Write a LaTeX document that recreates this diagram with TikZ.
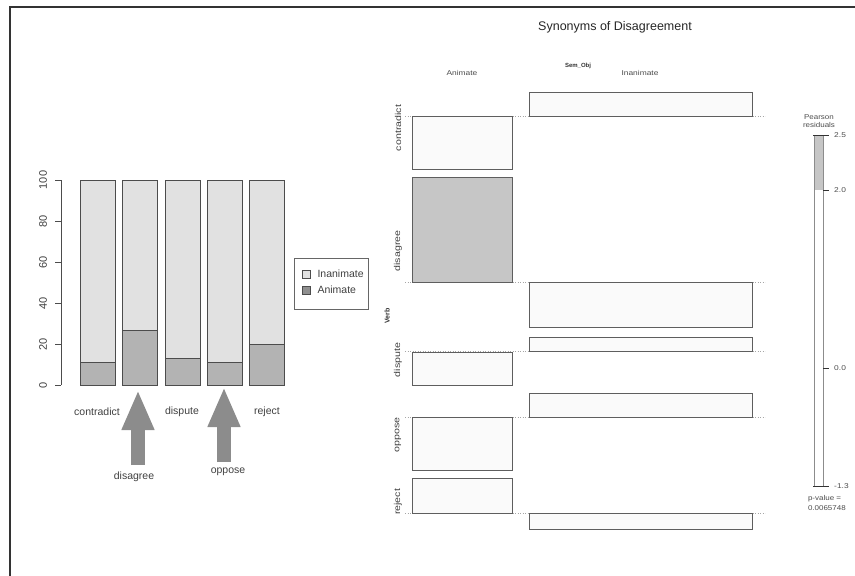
\documentclass[tikz,border=0pt]{standalone}
\usepackage{fontspec}
\setmainfont{Liberation Sans}
\usetikzlibrary{arrows.meta}

\definecolor{inanim}{HTML}{E1E1E1}
\definecolor{anim}{HTML}{B3B3B3}
\definecolor{pointgray}{HTML}{8C8C8C}
\definecolor{resid}{HTML}{C6C6C6}
\definecolor{cellline}{HTML}{5E5E5E}

\tikzset{
  bar/.style={draw=black!70, line width=0.9pt},
  axis/.style={draw=black!70, line width=0.6pt},
  lbl/.style={font=\fontsize{10.5}{12}\selectfont, text=black!75},
  pointer/.style={draw=pointgray, line width=14pt, -{Triangle[length=40pt,width=30pt]}},
  cell/.style={draw=cellline, line width=0.9pt, fill=white!98!black},
  refline/.style={draw=black!35, dotted, line width=0.5pt},
  tiny/.style={font=\fontsize{7}{8}\selectfont, text=black!70, xscale=1.2},
  rowlbl/.style={font=\fontsize{8.5}{10}\selectfont, text=black!75, rotate=90, xscale=1.25},
}

\begin{document}
\begin{tikzpicture}[x=1pt,y=-1pt]
\useasboundingbox (0,0) rectangle (855,576);
%frame
\draw[line width=2.5pt, black!80] (10,576) -- (10,7) -- (855,7);

%y axis
\draw[axis] (61,180) -- (61,385);
\foreach \v in {0,20,...,100}
{\draw[axis] (61,{385-2.05*\v}) -- (55,{385-2.05*\v});
\node[lbl, rotate=90, font=\fontsize{11}{12}\selectfont] (y\v) at (43,{385-2.05*\v}) {\v};}

%bars
\foreach \x/\a in {80/11,122/26.7,165/12.8,207/11,249/20}
{\draw[bar, fill=inanim] (\x,180) rectangle (\x+35.5,385);
\draw[bar, fill=anim] (\x,385) rectangle (\x+35.5,{385-2.05*\a});}

%verb labels
\node[lbl] (contradict) at (97,412) {contradict};
\node[lbl] (dispute) at (182,412) {dispute};
\node[lbl] (reject) at (267,412) {reject};
\node[lbl] (disagree) at (134,477) {disagree};
\node[lbl] (oppose) at (228,472) {oppose};

%arrows
\coordinate (tipA) at (138,390);
\coordinate (tailA) at (138,465);
\coordinate (tipB) at (224,387);
\coordinate (tailB) at (224,462);
\draw[pointer] (tailA) -- (tipA);
\draw[pointer] (tailB) -- (tipB);

%legend
\draw[draw=black!60, line width=0.6pt] (294,258) rectangle (368,309);
\draw[draw=black!70, fill=inanim, line width=0.5pt] (302,270) rectangle (310,278);
\draw[draw=black!70, fill=anim!80!black, line width=0.5pt] (302,286) rectangle (310,294);
\node[lbl, anchor=west] (legI) at (314,274) {Inanimate};
\node[lbl, anchor=west] (legA) at (314,290) {Animate};

%mosaic
\node[font=\fontsize{12.5}{15}\selectfont, text=black!85] (title) at (615,27) {Synonyms of Disagreement};
\node[text=black!80, font=\fontsize{6}{7}\bfseries] (semobj) at (578,66) {Sem\_Obj};
\node[tiny] (colA) at (462,73) {Animate};
\node[tiny] (colI) at (640,73) {Inanimate};
\node[text=black!80, font=\fontsize{7}{8}\bfseries, rotate=90] (verb) at (387,316) {Verb};

%reference lines
\foreach \y in {116,282,351,417,513}
\draw[refline] (405,\y) -- (765,\y);

%animate cells
\foreach \t/\b in {116/169,352/385,417/470,478/513}
\draw[cell] (412,\t) rectangle (512,\b);
\draw[cell, fill=resid] (412,177) rectangle (512,282);
%inanimate cells
\foreach \t/\b in {92/116,282/327,337/351,393/417,513/529}
\draw[cell] (529,\t) rectangle (752,\b);

%row labels
\foreach \n/\y in {contradict/128,disagree/251,dispute/360,oppose/435,reject/502}
\node[rowlbl] (row-\n) at (398,\y) {\n};

%shading scale
\fill[resid] (814,135) rectangle (823,190);
\draw[draw=black!45, line width=0.6pt] (814,135) -- (814,486) (823,135) -- (823,486);
\draw[black!80, line width=0.7pt] (813,135) -- (829,135) (813,486) -- (829,486);
\foreach \y/\v in {135/2.5,190/2.0,368/0.0,486/-1.3}
{\draw[black!80, line width=0.6pt] (823,\y) -- (829,\y);
\node[tiny, anchor=west] (tick\y) at (830,\y) {\v};}
\node[tiny, xscale=0.95] (pearson) at (819,117) {Pearson};
\node[tiny, xscale=0.95] (residuals) at (819,125) {residuals};
\node[tiny, anchor=west, xscale=0.95] (pval) at (804,499) {p-value =};
\node[tiny, anchor=west, xscale=0.95] (pnum) at (804,508) {0.0065748};

\end{tikzpicture}
\end{document}
